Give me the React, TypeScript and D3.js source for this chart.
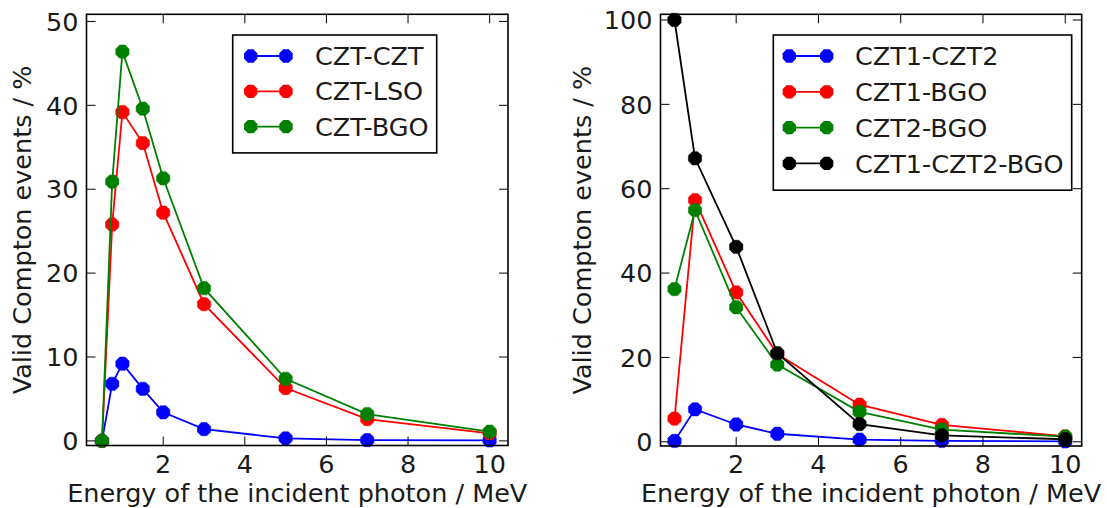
import React from "react";
import * as d3 from "d3";

// ---- Data ----
const energyLeft = [0.5, 0.75, 1, 1.5, 2, 3, 5, 7, 10];
const cztCzt = [0, 6.8, 9.2, 6.2, 3.4, 1.4, 0.3, 0.1, 0.05];
const cztLso = [0, 25.8, 39.2, 35.5, 27.2, 16.3, 6.3, 2.6, 0.9];
const cztBgo = [0, 30.9, 46.4, 39.6, 31.3, 18.2, 7.4, 3.2, 1.1];

const energyRight = [0.5, 1, 2, 3, 5, 7, 10];
const czt1Czt2 = [0.2, 7.7, 4.1, 1.9, 0.5, 0.2, 0.1];
const czt1Bgo = [5.5, 57.3, 35.4, 20.8, 8.8, 4.0, 1.3];
const czt2Bgo = [36.2, 54.9, 31.9, 18.3, 7.1, 2.9, 1.2];
const czt1Czt2Bgo = [100, 67.2, 46.2, 21.0, 4.2, 1.5, 0.6];

const xTicks = [2, 4, 6, 8, 10];
const yTicksLeft = [0, 10, 20, 30, 40, 50];
const yTicksRight = [0, 20, 40, 60, 80, 100];

const xLabel = "Energy of the incident photon / MeV";
const yLabel = "Valid Compton events / %";

type Series = { name: string; color: string; x: number[]; y: number[] };

const leftSeries: Series[] = [
  { name: "CZT-CZT", color: "#0000ff", x: energyLeft, y: cztCzt },
  { name: "CZT-LSO", color: "#ff0000", x: energyLeft, y: cztLso },
  { name: "CZT-BGO", color: "#008000", x: energyLeft, y: cztBgo },
];
const rightSeries: Series[] = [
  { name: "CZT1-CZT2", color: "#0000ff", x: energyRight, y: czt1Czt2 },
  { name: "CZT1-BGO", color: "#ff0000", x: energyRight, y: czt1Bgo },
  { name: "CZT2-BGO", color: "#008000", x: energyRight, y: czt2Bgo },
  { name: "CZT1-CZT2-BGO", color: "#000000", x: energyRight, y: czt1Czt2Bgo },
];

const FONT = "DejaVu Sans, Bitstream Vera Sans, sans-serif";
const FS = 25.5;

function octagon(cx: number, cy: number, r: number) {
  const pts: string[] = [];
  for (let i = 0; i < 8; i++) {
    const a = (Math.PI / 4) * i + Math.PI / 8;
    pts.push(`${(cx + r * Math.cos(a)).toFixed(2)},${(cy + r * Math.sin(a)).toFixed(2)}`);
  }
  return pts.join(" ");
}

type PanelProps = {
  left: number; right: number; top: number; bottom: number;
  xDomain: [number, number]; yDomain: [number, number];
  yTicks: number[]; series: Series[];
  legend: { x: number; y: number; w: number; rowH: number; lineX0: number; lineX1: number; textX: number };
  yLabelX: number;
};

function Panel(p: PanelProps) {
  const x = d3.scaleLinear().domain(p.xDomain).range([p.left, p.right]);
  const y = d3.scaleLinear().domain(p.yDomain).range([p.bottom, p.top]);
  const line = d3.line<[number, number]>().x((d) => x(d[0])).y((d) => y(d[1]));
  const tickLen = 9;
  const legH = p.legend.rowH * p.series.length + 10;
  return (
    <g>
      {/* series */}
      <g>
        {p.series.map((s) => {
          const pts = s.x.map((v, i) => [v, s.y[i]] as [number, number]);
          return (
            <g key={s.name}>
              <path d={line(pts) || ""} fill="none" stroke={s.color} strokeWidth={1.8} />
              {pts.map((d, i) => (
                <polygon key={i} points={octagon(x(d[0]), y(d[1]), 7.2)} fill={s.color} stroke={s.color} strokeWidth={0.5} />
              ))}
            </g>
          );
        })}
      </g>
      {/* ticks */}
      {xTicks.map((t) => (
        <g key={"xt" + t}>
          <line x1={x(t)} x2={x(t)} y1={p.bottom} y2={p.bottom - tickLen} stroke="#000" strokeWidth={1} />
          <line x1={x(t)} x2={x(t)} y1={p.top} y2={p.top + tickLen} stroke="#000" strokeWidth={1} />
          <text x={x(t)} y={p.bottom + 27} textAnchor="middle" fontFamily={FONT} fontSize={FS} fill="#1a1a1a">{t}</text>
        </g>
      ))}
      {p.yTicks.map((t) => (
        <g key={"yt" + t}>
          <line x1={p.left} x2={p.left + tickLen} y1={y(t)} y2={y(t)} stroke="#000" strokeWidth={1} />
          <line x1={p.right} x2={p.right - tickLen} y1={y(t)} y2={y(t)} stroke="#000" strokeWidth={1} />
          <text x={p.left - 8} y={y(t)} dy="0.36em" textAnchor="end" fontFamily={FONT} fontSize={FS} fill="#1a1a1a">{t}</text>
        </g>
      ))}
      {/* frame */}
      <rect x={p.left} y={p.top} width={p.right - p.left} height={p.bottom - p.top} fill="none" stroke="#000" strokeWidth={1.6} />
      {/* axis labels */}
      <text x={(p.left + p.right) / 2} y={p.bottom + 56} textAnchor="middle" fontFamily={FONT} fontSize={FS} fill="#1a1a1a">{xLabel}</text>
      <text transform={`translate(${p.yLabelX},${(p.top + p.bottom) / 2}) rotate(-90)`} textAnchor="middle" fontFamily={FONT} fontSize={FS} fill="#1a1a1a">{yLabel}</text>
      {/* legend */}
      <g>
        <rect x={p.legend.x} y={p.legend.y} width={p.legend.w} height={legH + 2} fill="#fff" stroke="#000" strokeWidth={1.6} />
        {p.series.map((s, i) => {
          const cy = p.legend.y + 21 + i * p.legend.rowH;
          return (
            <g key={"lg" + s.name}>
              <line x1={p.legend.lineX0} x2={p.legend.lineX1} y1={cy} y2={cy} stroke={s.color} strokeWidth={1.8} />
              <polygon points={octagon(p.legend.lineX0, cy, 7.2)} fill={s.color} />
              <polygon points={octagon(p.legend.lineX1, cy, 7.2)} fill={s.color} />
              <text x={p.legend.textX} y={cy} dy="0.36em" fontFamily={FONT} fontSize={FS} fill="#1a1a1a">{s.name}</text>
            </g>
          );
        })}
      </g>
    </g>
  );
}

export default function App() {
  return (
    <div style={{ position: "absolute", left: 0, top: 0 }}>
      <svg width={1107} height={508} style={{ display: "block", background: "#fff" }}>
        <Panel
          left={86.5} right={508} top={14.3} bottom={445.5}
          xDomain={[0.12, 10.45]} yDomain={[-0.55, 50.85]}
          yTicks={yTicksLeft} series={leftSeries}
          legend={{ x: 232.7, y: 35, w: 204, rowH: 35.3, lineX0: 250.7, lineX1: 286, textX: 315 }}
          yLabelX={31}
        />
        <Panel
          left={660.5} right={1081.7} top={14.3} bottom={446}
          xDomain={[0.16, 10.4]} yDomain={[-1.0, 101.35]}
          yTicks={yTicksRight} series={rightSeries}
          legend={{ x: 773.3, y: 35, w: 298.4, rowH: 35.8, lineX0: 789.3, lineX1: 826.7, textX: 855 }}
          yLabelX={591}
        />
      </svg>
    </div>
  );
}
